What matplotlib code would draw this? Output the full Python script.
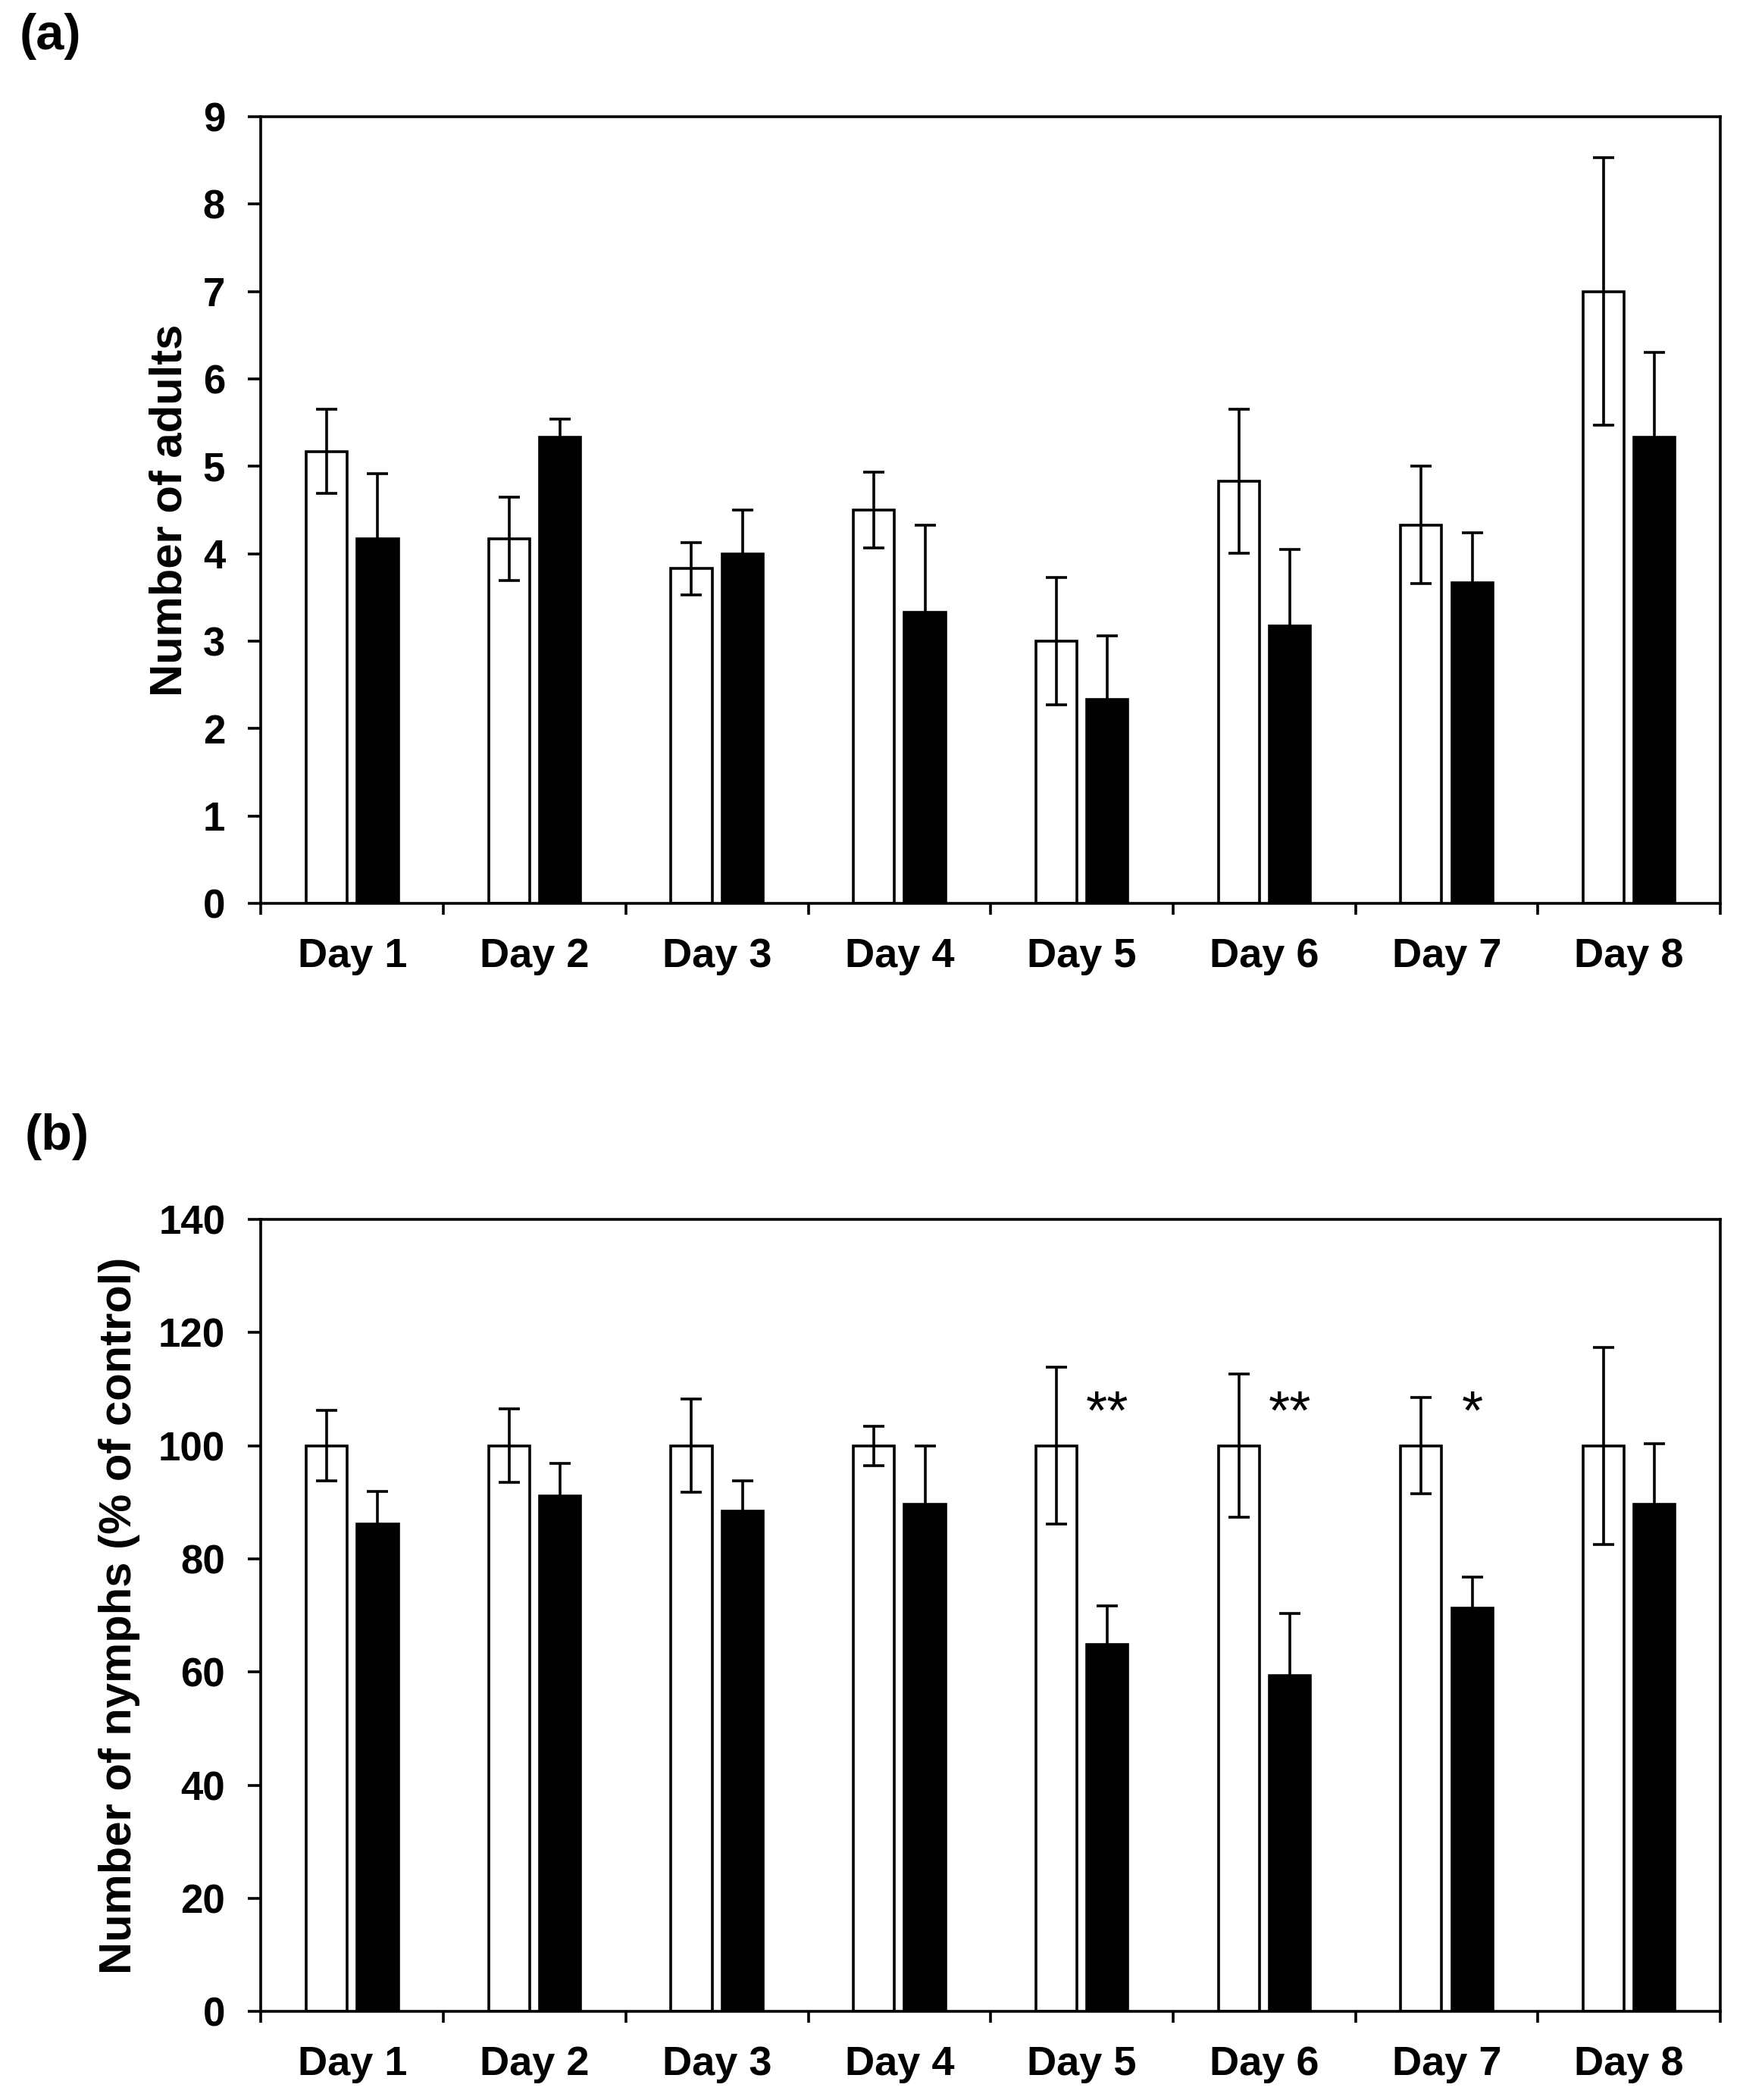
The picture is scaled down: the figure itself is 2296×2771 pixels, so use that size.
import numpy as np
import matplotlib
matplotlib.use("Agg")
import matplotlib.pyplot as plt

# ---- data ----
days = ["Day 1", "Day 2", "Day 3", "Day 4", "Day 5", "Day 6", "Day 7", "Day 8"]

adults_ctrl = [5.17, 4.17, 3.83, 4.50, 3.00, 4.83, 4.33, 7.00]
adults_ctrl_err = [0.48, 0.48, 0.30, 0.43, 0.73, 0.82, 0.67, 1.53]
adults_trt = [4.17, 5.33, 4.00, 3.33, 2.33, 3.17, 3.67, 5.33]
adults_trt_err = [0.75, 0.21, 0.50, 1.00, 0.73, 0.88, 0.57, 0.97]

nymphs_ctrl = [100, 100, 100, 100, 100, 100, 100, 100]
nymphs_ctrl_err = [6.2, 6.5, 8.2, 3.5, 13.9, 12.7, 8.5, 17.4]
nymphs_trt = [86.1, 91.1, 88.4, 89.7, 64.8, 59.4, 71.3, 89.7]
nymphs_trt_err = [5.8, 5.8, 5.4, 10.3, 6.9, 10.9, 5.5, 10.6]
nymphs_sig = ["", "", "", "", "**", "**", "*", ""]

plt.rcParams["font.family"] = ["Liberation Sans", "DejaVu Sans"]
plt.rcParams["font.weight"] = "bold"

fig = plt.figure(figsize=(11.48, 13.855), dpi=200)
ax_a = fig.add_axes([0.150, 0.5698, 0.8387, 0.3746])
ax_b = fig.add_axes([0.150, 0.0422, 0.8387, 0.3771])

x = np.arange(len(days))
off = 0.14
lw = 1.3


def draw_panel(ax, ctrl, ctrl_err, trt, trt_err, ymax, ystep, ylabel, labelpad):
    ax.bar(x - off, ctrl, width=0.225, color="white", edgecolor="black", linewidth=lw, zorder=2)
    ax.bar(x + off, trt, width=0.225, color="black", edgecolor="black", linewidth=lw, zorder=2)
    ax.errorbar(x - off, ctrl, yerr=ctrl_err, fmt="none", ecolor="black",
                elinewidth=lw, capsize=5, capthick=lw, zorder=3)
    ax.errorbar(x + off, trt, yerr=trt_err, fmt="none", ecolor="black",
                elinewidth=lw, capsize=5, capthick=lw, zorder=3)
    ax.set_xlim(-0.5, len(days) - 0.5)
    ax.set_ylim(0, ymax)
    ax.set_yticks(np.arange(0, ymax + ystep / 2, ystep))
    ax.set_xticks(x)
    ax.set_xticklabels(days, fontsize=19.5, fontweight="bold")
    ax.set_xticks(np.arange(-0.5, len(days)), minor=True)
    ax.tick_params(axis="x", which="major", length=0, pad=16)
    ax.tick_params(axis="x", which="minor", length=5.5, width=lw, direction="out")
    ax.tick_params(axis="y", length=6, width=lw, direction="out", labelsize=19, pad=11)
    for t in ax.get_yticklabels():
        t.set_fontweight("bold")
    for s in ax.spines.values():
        s.set_linewidth(lw)
    ax.set_ylabel(ylabel, fontsize=21.5, fontweight="bold", labelpad=labelpad)


draw_panel(ax_a, adults_ctrl, adults_ctrl_err, adults_trt, adults_trt_err,
           9, 1, "Number of adults", 6)
draw_panel(ax_b, nymphs_ctrl, nymphs_ctrl_err, nymphs_trt, nymphs_trt_err,
           140, 20, "Number of nymphs (% of control)", 8.5)

for i, s in enumerate(nymphs_sig):
    if s:
        ax_b.text(x[i] + off, 105.5, s, ha="center", va="center", fontsize=26, fontweight="normal")

fig.text(0.011, 0.994, "(a)", fontsize=24, fontweight="bold", va="top", ha="left")
fig.text(0.014, 0.470, "(b)", fontsize=24, fontweight="bold", va="top", ha="left")

fig.savefig("out.png", dpi=200)
